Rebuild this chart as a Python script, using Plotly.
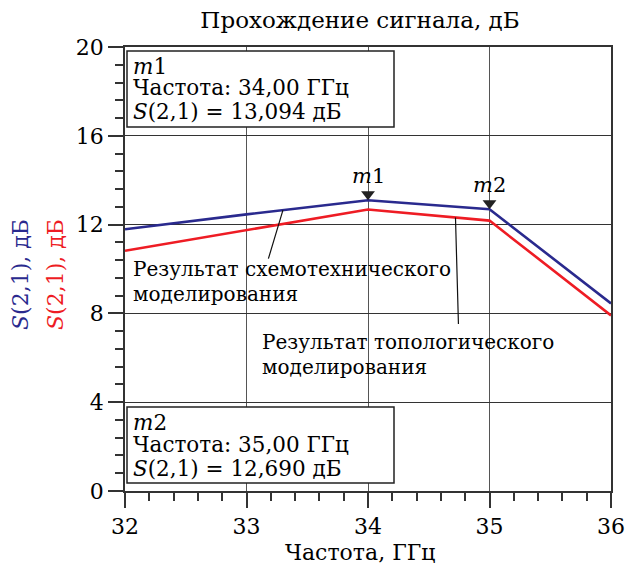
import plotly.graph_objects as go

# ---- data ----
freq_ghz = [32, 33, 34, 35, 36]
s21_schematic = [11.79, 12.46, 13.094, 12.69, 8.45]   # blue
s21_layout = [10.82, 11.76, 12.68, 12.18, 7.91]       # red
marker_names = ["m1", "m2"]
marker_freq = [34, 35]
marker_val = [13.094, 12.690]
x_ticks = [32, 33, 34, 35, 36]
y_ticks = [0, 4, 8, 12, 16, 20]

BLUE = "#2a2a8e"
RED = "#ee1c24"
FONT = "DejaVu Serif"

W, H = 628, 569
L, R, T, B = 125, 17, 47, 78
PW, PH = W - L - R, H - T - B

def px(xp):
    return (xp - L) / PW

def py(yp):
    return (H - B - yp) / PH

db_per_px = 20 / PH

fig = go.Figure()
fig.add_trace(go.Scatter(x=freq_ghz, y=s21_schematic, mode="lines",
                         line=dict(color=BLUE, width=2.6), showlegend=False))
fig.add_trace(go.Scatter(x=freq_ghz, y=s21_layout, mode="lines",
                         line=dict(color=RED, width=2.6), showlegend=False))
# marker triangles (tip at the data point)
fig.add_trace(go.Scatter(x=marker_freq, y=[v + 6 * db_per_px for v in marker_val],
                         mode="markers",
                         marker=dict(symbol="triangle-down", size=12, color="#222"),
                         showlegend=False, hoverinfo="skip"))

ann = []
for name, f, v in zip(marker_names, marker_freq, marker_val):
    ann.append(dict(x=f, y=v, xref="x", yref="y", text="<i>m</i>" + name[1:],
                    showarrow=False, yshift=24, font=dict(size=21)))

# marker boxes
shapes = []
boxes = [
    (127, 394, 51, 127, ["<i>m</i>1", "Частота: 34,00 ГГц", "<i>S</i>(2,1) = 13,094 дБ"], [66, 88, 112]),
    (127, 394, 407, 483, ["<i>m</i>2", "Частота: 35,00 ГГц", "<i>S</i>(2,1) = 12,690 дБ"], [422, 444, 468]),
]
for x0, x1, y0, y1, lines, ys in boxes:
    shapes.append(dict(type="rect", xref="paper", yref="paper",
                       x0=px(x0), x1=px(x1), y0=py(y1), y1=py(y0),
                       line=dict(color="#222", width=1.5), fillcolor="white", layer="above"))
    for t, yy in zip(lines, ys):
        ann.append(dict(x=px(131), y=py(yy), xref="paper", yref="paper", text=t,
                        showarrow=False, xanchor="left", yanchor="middle",
                        font=dict(size=21.5)))

# descriptive labels
for t, yy in zip(["Результат схемотехнического", "моделирования"], [269, 294]):
    ann.append(dict(x=px(131), y=py(yy), xref="paper", yref="paper", text=t,
                    showarrow=False, xanchor="left", yanchor="middle", font=dict(size=20)))
for t, yy in zip(["Результат топологического", "моделирования"], [342, 367]):
    ann.append(dict(x=px(260), y=py(yy), xref="paper", yref="paper", text=t,
                    showarrow=False, xanchor="left", yanchor="middle", font=dict(size=20)))

# leader lines
def interp(xs, ys, x):
    for i in range(len(xs) - 1):
        if xs[i] <= x <= xs[i + 1]:
            return ys[i] + (ys[i + 1] - ys[i]) * (x - xs[i]) / (xs[i + 1] - xs[i])
    return ys[-1]

lx1 = 33.3
ann.append(dict(x=lx1, y=interp(freq_ghz, s21_schematic, lx1), xref="x", yref="y",
                text="", showarrow=True, arrowhead=0, arrowwidth=1.2, arrowcolor="#111",
                ax=-15, ay=50))
lx2 = 34.72
ann.append(dict(x=lx2, y=interp(freq_ghz, s21_layout, lx2), xref="x", yref="y",
                text="", showarrow=True, arrowhead=0, arrowwidth=1.2, arrowcolor="#111",
                ax=3, ay=108))

# two-colour y-axis title
ann.append(dict(x=px(20), y=py(275), xref="paper", yref="paper",
                xanchor="center", yanchor="middle",
                text="<i>S</i>(2,1), дБ", textangle=-90, showarrow=False,
                font=dict(size=22, color=BLUE)))
ann.append(dict(x=px(55), y=py(275), xref="paper", yref="paper",
                xanchor="center", yanchor="middle",
                text="<i>S</i>(2,1), дБ", textangle=-90, showarrow=False,
                font=dict(size=22, color=RED)))

# x-axis title
ann.append(dict(x=px(360), y=py(552), xref="paper", yref="paper",
                xanchor="center", yanchor="middle",
                text="Частота, ГГц", showarrow=False, font=dict(size=22)))

axis_common = dict(showline=True, mirror=True, linecolor="#333", linewidth=1.5,
                   ticks="outside", ticklen=15, tickwidth=1.5, tickcolor="#333",
                   showgrid=True, gridwidth=1, zeroline=False,
                   tickfont=dict(size=22, color="black"))

fig.update_layout(
    width=W, height=H,
    margin=dict(l=L, r=R, t=T, b=B, pad=0, autoexpand=False),
    plot_bgcolor="white", paper_bgcolor="white",
    font=dict(family=FONT, color="black"),
    title=dict(text="Прохождение сигнала, дБ", xref="paper", x=px(360), xanchor="center",
               yref="container", y=1 - 20 / H, yanchor="middle", font=dict(size=23)),
    xaxis=dict(range=[32, 36], tickvals=x_ticks, gridcolor="#555",
               minor=dict(dtick=0.2, ticks="outside", ticklen=8, tickwidth=1.5,
                          tickcolor="#333", showgrid=False),
               **axis_common),
    yaxis=dict(range=[0, 20], tickvals=y_ticks, gridcolor="#333",
               minor=dict(dtick=0.8, ticks="outside", ticklen=8, tickwidth=1.5,
                          tickcolor="#333", showgrid=False),
               **axis_common),
    annotations=ann, shapes=shapes,
)
fig.write_html("out.html", config={"displayModeBar": False},
               post_script="document.body.style.margin='0';document.body.style.overflow='hidden';")
